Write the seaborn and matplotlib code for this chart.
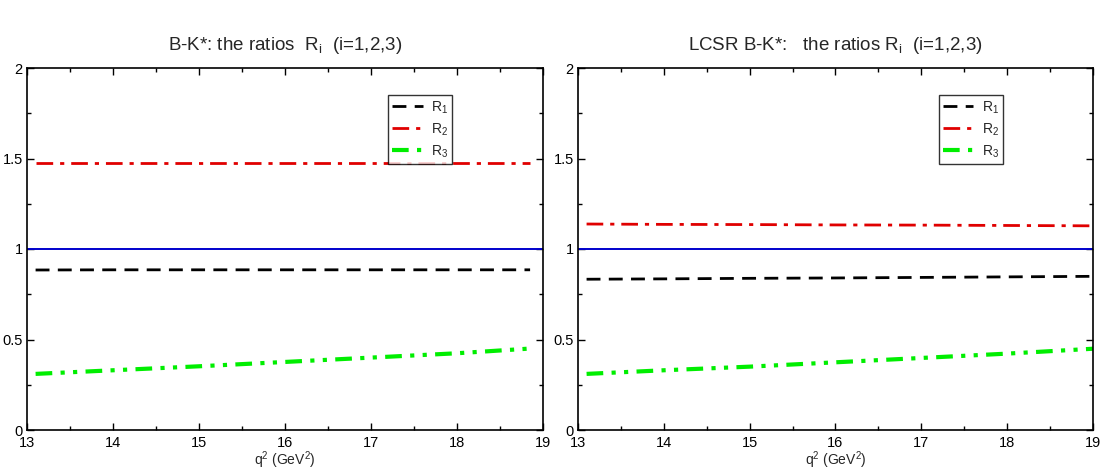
import numpy as np
import pandas as pd
import seaborn as sns
import matplotlib.pyplot as plt
from matplotlib.ticker import MultipleLocator

# q^2 sample points (GeV^2)
q2_left = [13.1, 14.0, 15.0, 16.0, 17.0, 18.0, 18.85]
q2_right = [13.1, 14.0, 15.0, 16.0, 17.0, 18.0, 19.0]

# left panel: B-K* ratios
r1_left = [0.884, 0.885, 0.885, 0.885, 0.885, 0.885, 0.885]
r2_left = [1.475, 1.475, 1.475, 1.475, 1.475, 1.475, 1.475]
r3_left = [0.310, 0.330, 0.352, 0.376, 0.400, 0.424, 0.450]

# right panel: LCSR B-K* ratios
r1_right = [0.833, 0.835, 0.838, 0.840, 0.843, 0.846, 0.849]
r2_right = [1.138, 1.136, 1.135, 1.133, 1.132, 1.130, 1.128]
r3_right = [0.310, 0.330, 0.350, 0.374, 0.398, 0.422, 0.449]

ref_x = [13, 19]
ref_y = [1, 1]

titles = [r"B-K*: the ratios  R$_\mathregular{i}$  (i=1,2,3)",
          r"LCSR B-K*:   the ratios R$_\mathregular{i}$  (i=1,2,3)"]

sns.set_theme(style="white")
plt.rcParams["font.family"] = ["Liberation Sans", "DejaVu Sans"]
plt.rcParams["mathtext.fontset"] = "custom"
plt.rcParams["mathtext.rm"] = "Liberation Sans"

fig = plt.figure(figsize=(11.13, 4.7), dpi=100)
ax_l = fig.add_axes([27 / 1113, 40 / 470, 516 / 1113, 362 / 470])
ax_r = fig.add_axes([578 / 1113, 40 / 470, 515 / 1113, 362 / 470])

panels = [
    (ax_l, q2_left, r1_left, r2_left, r3_left, titles[0], (0.70, 0.925)),
    (ax_r, q2_right, r1_right, r2_right, r3_right, titles[1], (0.70, 0.925)),
]

for ax, q2, r1, r2, r3, title, leg_pos in panels:
    sns.lineplot(x=ref_x, y=ref_y, ax=ax, color="#0000cc", linewidth=1.4)
    sns.lineplot(x=q2, y=r1, ax=ax, color="black", linewidth=2.0,
                 label=r"R$_\mathregular{1}$")
    ax.lines[-1].set_dashes([5, 3])
    sns.lineplot(x=q2, y=r2, ax=ax, color="#e00000", linewidth=2.0,
                 label=r"R$_\mathregular{2}$")
    ax.lines[-1].set_dashes([6, 2.5, 1.5, 2.5])
    sns.lineplot(x=q2, y=r3, ax=ax, color="#00ee00", linewidth=3.0,
                 label=r"R$_\mathregular{3}$")
    ax.lines[-1].set_dashes([4, 2, 1, 2, 1, 2])

    ax.set_xlim(13, 19)
    ax.set_ylim(0, 2)
    ax.xaxis.set_major_locator(MultipleLocator(1))
    ax.xaxis.set_minor_locator(MultipleLocator(0.5))
    ax.yaxis.set_major_locator(MultipleLocator(0.5))
    ax.yaxis.set_minor_locator(MultipleLocator(0.25))
    ax.set_yticks([0, 0.5, 1, 1.5, 2], ["0", "0.5", "1", "1.5", "2"])
    ax.tick_params(which="both", direction="in", top=True, right=True,
                   bottom=True, left=True, colors="black", labelsize=10.5)
    ax.tick_params(which="major", length=5, width=1)
    ax.tick_params(which="minor", length=3, width=1)
    ax.tick_params(axis="x", pad=4)
    ax.tick_params(axis="y", pad=3)
    for s in ax.spines.values():
        s.set_color("black")
        s.set_linewidth(1.2)

    ax.set_xlabel(r"q$^\mathregular{2}$ (GeV$^\mathregular{2}$)", fontsize=10,
                  labelpad=0)
    ax.set_ylabel("")
    ax.set_title(title, fontsize=13.5, pad=13)

    leg = ax.legend(loc="upper left", bbox_to_anchor=leg_pos, fontsize=10,
                    handlelength=2.2, frameon=True, fancybox=False,
                    borderpad=0.3, labelspacing=0.4, handletextpad=0.6,
                    borderaxespad=0)
    leg.get_frame().set_edgecolor("black")
    leg.get_frame().set_linewidth(1.0)

fig.savefig("out.png", dpi=100)
